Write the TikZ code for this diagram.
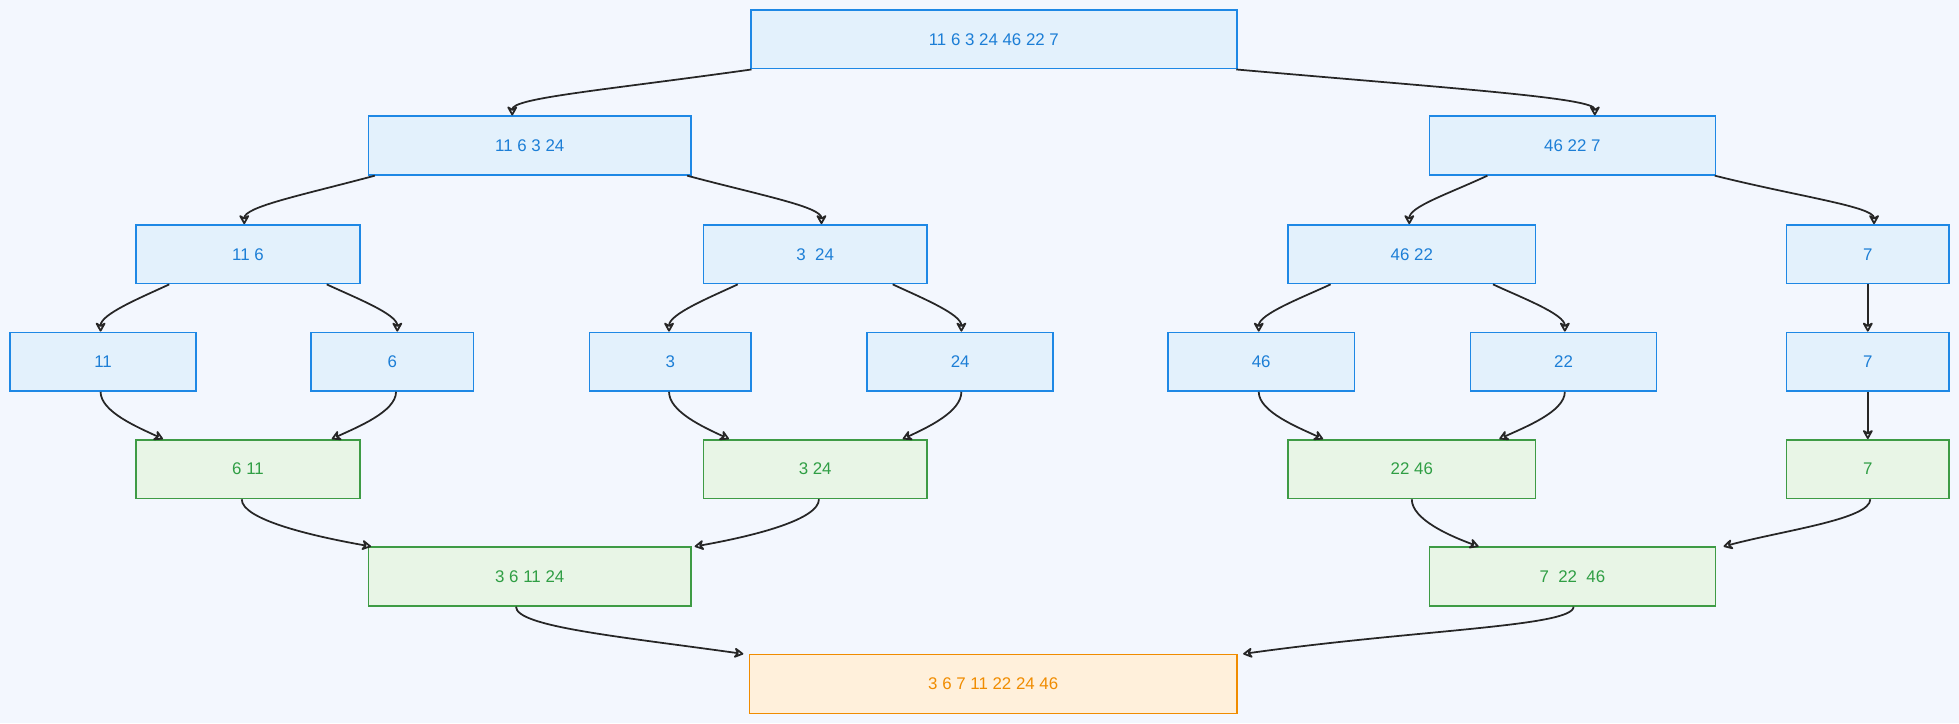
\documentclass[tikz,border=0pt]{standalone}
\usepackage{fontspec}
\setmainfont{Liberation Sans}
\usetikzlibrary{arrows.meta}
\definecolor{bg}{HTML}{F3F7FE}
\definecolor{bfill}{HTML}{E3F1FC}
\definecolor{bline}{HTML}{1E88E5}
\definecolor{btext}{HTML}{1C7ED6}
\definecolor{gfill}{HTML}{E8F5E6}
\definecolor{gline}{HTML}{3E9B45}
\definecolor{gtext}{HTML}{2F9E44}
\definecolor{ofill}{HTML}{FFF0DB}
\definecolor{oline}{HTML}{F08C00}
\tikzset{
 box/.style={draw, line width=1.2pt, minimum height=47pt, inner sep=0pt, font=\fontsize{13.5}{15}\selectfont},
 bb/.style={box, fill=bfill, draw=bline, text=btext},
 gb/.style={box, fill=gfill, draw=gline, text=gtext},
 ob/.style={box, fill=ofill, draw=oline, text=oline},
 arr/.style={draw=black!85, line width=1.4pt, -{Stealth[open,length=9pt,width=10pt,round]}},
 down/.style={out distance=#1, in distance=14pt},
 up/.style={out distance=16pt, in distance=#1}
}
\newcommand{\nd}[6]{\node[#1, minimum width=#4pt] (#2) at (#3,#5) {#6};}
% top-down: src dx dst dx out outdist
\newcommand{\arr}[6]{\draw[arr] ([xshift=#2pt]#1.south) to[out=#5,in=90,down=#6pt] ([xshift=#4pt]#3.north);}
% merge: src dx dst dx in indist
\newcommand{\mrg}[6]{\draw[arr] ([xshift=#2pt]#1.south) to[out=-90,in=#5,up=#6pt] ([xshift=#4pt]#3.north);}
\begin{document}
\begin{tikzpicture}[x=1pt,y=-1pt]
\fill[bg] (0,0) rectangle (1568,579);
\useasboundingbox (0,0) rectangle (1568,579);
\nd{bb}{root}{795.5}{389}{31.5}{11 6 3 24 46 22 7}
\nd{bb}{A}{424}{258}{116.5}{11 6 3 24}
\nd{bb}{B}{1258.5}{229}{116.5}{46 22 7}
\nd{bb}{a1}{198.5}{179}{203.5}{11 6}
\nd{bb}{a2}{652.5}{179}{203.5}{3\ \ 24}
\nd{bb}{b1}{1130}{198}{203.5}{46 22}
\nd{bb}{b2}{1495}{130}{203.5}{7}
\nd{bb}{c1}{82.5}{149}{289.5}{11}
\nd{bb}{c2}{314}{130}{289.5}{6}
\nd{bb}{c3}{536.5}{129}{289.5}{3}
\nd{bb}{c4}{768.5}{149}{289.5}{24}
\nd{bb}{c5}{1009.5}{149}{289.5}{46}
\nd{bb}{c6}{1251.5}{149}{289.5}{22}
\nd{bb}{c7}{1495}{130}{289.5}{7}
\nd{gb}{d1}{198.5}{179}{375.5}{6 11}
\nd{gb}{d2}{652.5}{179}{375.5}{3 24}
\nd{gb}{d3}{1130}{198}{375.5}{22 46}
\nd{gb}{d4}{1495}{130}{375.5}{7}
\nd{gb}{e1}{424}{258}{461.5}{3 6 11 24}
\nd{gb}{e2}{1258.5}{229}{461.5}{7\ \ 22\ \ 46}
\nd{ob}{f}{795}{390}{547.5}{3 6 7 11 22 24 46}
\arr{root}{-194}{A}{-14}{188}{120}
\arr{root}{194}{B}{18}{-5}{180}
\arr{A}{-124}{a1}{-3}{195}{60}
\arr{A}{126}{a2}{5}{-15}{60}
\arr{B}{-68}{b1}{-2}{205}{35}
\arr{B}{114}{b2}{5}{-14}{70}
\arr{a1}{-63}{c1}{-2}{205}{25}
\arr{a1}{63}{c2}{4}{-25}{25}
\arr{a2}{-62}{c3}{-1}{205}{25}
\arr{a2}{62}{c4}{1}{-25}{25}
\arr{b1}{-65}{c5}{-2}{205}{25}
\arr{b1}{65}{c6}{1}{-25}{25}
\arr{b2}{0}{c7}{0}{-90}{10}
\mrg{c1}{-2}{d1}{-68}{155}{22}
\mrg{c2}{3}{d1}{67}{25}{22}
\mrg{c3}{-1}{d2}{-69}{155}{22}
\mrg{c4}{1}{d2}{70}{25}{22}
\mrg{c5}{-2}{d3}{-71}{155}{22}
\mrg{c6}{1}{d3}{70}{25}{22}
\mrg{c7}{0}{d4}{0}{90}{10}
\mrg{d1}{-5}{e1}{-127}{170}{50}
\mrg{d2}{3}{e1}{132}{10}{50}
\mrg{d3}{0}{e2}{-75}{160}{25}
\mrg{d4}{2}{e2}{121}{15}{50}
\mrg{e1}{-11}{f}{-200}{172}{100}
\mrg{e2}{1}{f}{200}{8}{140}
\end{tikzpicture}
\end{document}
